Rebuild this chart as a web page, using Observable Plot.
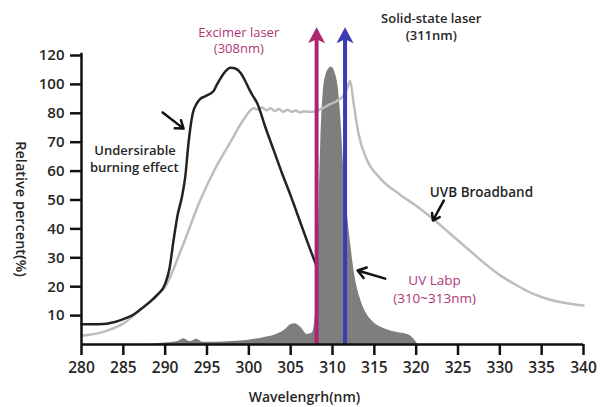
<!DOCTYPE html>
<html><head><meta charset="utf-8">
<script src="https://cdn.jsdelivr.net/npm/d3@7"></script>
<script src="https://cdn.jsdelivr.net/npm/@observablehq/plot@0.6"></script>
<style>
body{margin:0;background:#fff;}
#chart svg{display:block;}
</style>
</head><body><div id="chart"></div>
<script>
// ---- data ----
const xTicks = [280,285,290,295,300,305,310,315,320,325,330,335,340];
const yTicks = [10,20,30,40,50,60,70,80,100,120];

const burnNm  = [280,282,284,285,286,287,288,289,290,290.5,291,291.5,292,292.4,292.8,293.3,293.8,294.2,294.7,295.2,295.8,296.2,296.6,297.2,297.8,298.4,299,299.6,300.1,300.6,301,302,303,304,305,306,307,308.1];
const burnPct = [7,7,7.8,8.8,10,12,14.3,17,21,26,36,45,51,58,70,80,87,90,91.5,93,95.5,100,104,109,111.5,111,108,102,96,91,87,75,67,59,51.5,43.5,35.5,27];

const uvbNm  = [280,283,285,287,289,290,292,294.2,296,297.8,299.3,300.6,301.1,301.6,302.1,302.6,303.1,303.6,304.1,304.6,305.1,305.6,306.1,306.6,307.1,307.7,308.3,309,309.6,310.2,310.8,311.4,311.8,312.1,312.5,313.1,314.1,315.7,318,320,322,324,326,328,330,332,334,336,338,340];
const uvbPct = [3,4.7,7.3,12,17,20,33.5,50,61,70,77.5,83.5,82.5,84,82,83.5,81.5,83,81,82.5,81,82,80.5,81.5,81,81,82,84,86,87.5,89.5,93,98,102.5,88,73,64,57.5,52,48,43.5,38.5,33.5,28.5,24,20.5,17.5,15.5,14.3,13.5];

const lampNm  = [288,290,291.5,292.2,293,293.8,294.5,296,298,300,302,303.3,304.3,305,305.5,306.2,307,307.6,308,308.3,308.6,308.9,309.2,309.6,309.9,310.3,310.7,311,311.3,311.7,312.2,312.6,313.3,314,314.8,315.8,316.6,318,319,319.7,320.2];
const lampPct = [0,0.5,1,2,1,1.8,0.8,0.8,1,1.5,2.5,3.5,5,6.8,7.2,6,3.5,4,12,35,70,95,106,111,112,108,97,78,63,48,34,25,16,11,8,6,5,4,3.5,2,0];

const laserNm    = [308.1, 311.5];
const laserColor = ["#ab2570", "#3b3cb3"];

// ---- tables built from the arrays ----
const burn  = burnNm.map((x,i)=>({x, y: burnPct[i]}));
const uvb   = uvbNm.map((x,i)=>({x, y: uvbPct[i]}));
const lamp  = lampNm.map((x,i)=>({x, y: lampPct[i]}));
const lasers = laserNm.map((x,i)=>({x, color: laserColor[i]}));

// the reference's y axis is evenly spaced per tick (10 per step up to 80, then 20 per step)
const yStep = v => v <= 80 ? v / 10 : 8 + (v - 80) / 20;
const yTickSteps = yTicks.map(yStep);

const arrowHead = { draw(ctx) {
  ctx.moveTo(0,0); ctx.lineTo(8.5,16); ctx.lineTo(0,12); ctx.lineTo(-8.5,16); ctx.closePath();
}};

const font = "'Open Sans', 'Noto Sans', sans-serif";
const magenta = "#b03676";
const dark = "#262626";

const chart = Plot.plot({
  width: 601, height: 407,
  marginLeft: 81, marginRight: 18, marginTop: 55, marginBottom: 63,
  x: {domain: [280, 340], label: null},
  y: {transform: yStep, domain: [0, yStep(120)], label: null},
  color: {type: "identity"},
  style: {fontFamily: font, background: "#fff", overflow: "visible"},
  marks: [
    Plot.areaY(lamp, {x: "x", y: "y", fill: "#7e7e7e", curve: "monotone-x"}),
    Plot.line(uvb, {x: "x", y: "y", stroke: "#bdbdbd", strokeWidth: 2.5, curve: "monotone-x"}),
    Plot.line(burn, {x: "x", y: "y", stroke: "#222", strokeWidth: 2.5, curve: "monotone-x"}),
    Plot.ruleX(lasers, {x: "x", y1: 0, y2: 131, stroke: "color", strokeWidth: 4}),
    Plot.dot(lasers, {x: "x", y: () => 139.5, symbol: arrowHead, fill: "color", stroke: null, r: 8}),
    Plot.ruleY([0], {stroke: "#111", strokeWidth: 2.5}),
    Plot.ruleX([280], {y1: 0, y2: 121.5, stroke: "#111", strokeWidth: 2.5}),
    Plot.axisX({ticks: xTicks, tickSize: 11, tickPadding: 6, strokeWidth: 2.5, stroke: "#111",
      fontSize: 15.5, fontWeight: 600, fill: dark, label: null}),
    Plot.axisY({ticks: yTickSteps, tickFormat: t => String(yTicks[yTickSteps.indexOf(t)]),
      tickSize: 11, tickPadding: 6, strokeWidth: 2.5, stroke: "#111",
      fontSize: 15, fontWeight: 600, fill: dark, label: null}),
    // axis titles
    Plot.text(["Relative percent(%)"], {frameAnchor: "left", textAnchor: "middle", dx: -61, dy: 9, rotate: 90,
      fontSize: 14.5, fontWeight: 600, fill: dark}),
    Plot.text(["Wavelengrh(nm)"], {frameAnchor: "bottom", lineAnchor: "middle", dx: -28, dy: 53,
      fontSize: 14, fontWeight: 600, fill: dark}),
    // annotations
    Plot.text(["Excimer laser"], {x: 298.8, y: () => 136, fontSize: 13, fill: magenta}),
    Plot.text(["(308nm)"], {x: 298.8, y: () => 124.8, fontSize: 13, fill: magenta}),
    Plot.text(["Solid-state laser"], {x: 321.8, y: () => 145.6, fontSize: 13, fontWeight: 600, fill: dark}),
    Plot.text(["(311nm)"], {x: 321.8, y: () => 133.8, fontSize: 13, fontWeight: 600, fill: dark}),
    Plot.text(["Undersirable"], {x: 286.4, y: () => 67.1, fontSize: 13, fontWeight: 600, fill: dark}),
    Plot.text(["burning effect"], {x: 286.3, y: () => 61.2, fontSize: 13, fontWeight: 600, fill: dark}),
    Plot.text(["UVB Broadband"], {x: 327.8, y: () => 52.6, fontSize: 13.5, fontWeight: 600, fill: dark}),
    Plot.text(["UV Labp"], {x: 322.2, y: () => 22.1, fontSize: 13.5, fill: magenta}),
    Plot.text(["(310~313nm)"], {x: 322.2, y: () => 15.9, fontSize: 13.5, fill: magenta}),
    Plot.arrow([{x1: 289.7, y1: 80.6, x2: 292.2, y2: 74.7}], {x1: "x1", y1: "y1", x2: "x2", y2: "y2",
      stroke: "#111", strokeWidth: 2.5, headLength: 9, headAngle: 70}),
    Plot.arrow([{x1: 323.3, y1: 49.8, x2: 322.0, y2: 42.9}], {x1: "x1", y1: "y1", x2: "x2", y2: "y2",
      stroke: "#111", strokeWidth: 2.5, headLength: 9, headAngle: 70}),
    Plot.arrow([{x1: 316.3, y1: 22.8, x2: 313.0, y2: 25.6}], {x1: "x1", y1: "y1", x2: "x2", y2: "y2",
      stroke: "#111", strokeWidth: 2.5, headLength: 9, headAngle: 70})
  ]
});
document.getElementById("chart").appendChild(chart);
</script>
</body></html>
